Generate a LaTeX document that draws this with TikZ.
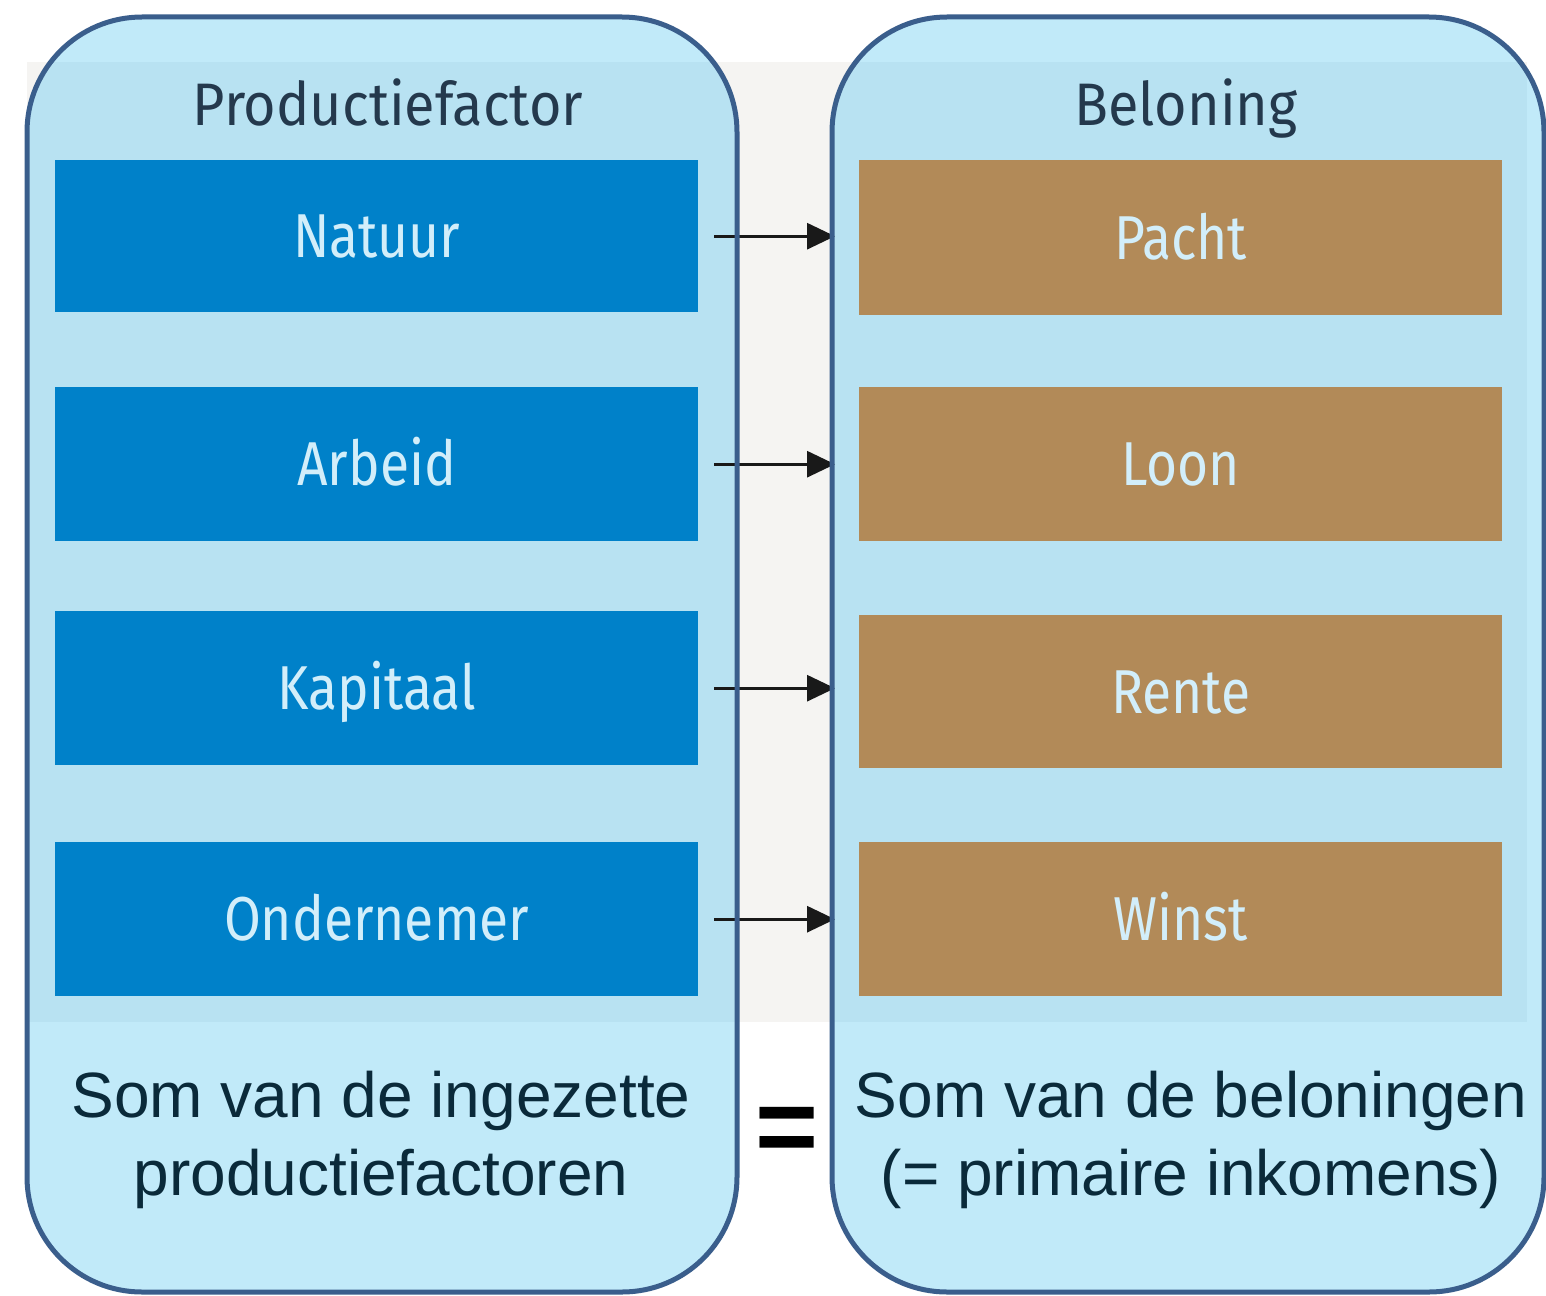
\documentclass[tikz,border=0pt]{standalone}
\usepackage{fontspec}
\setmainfont{Liberation Sans}
\newfontfamily\boxfont[FakeStretch=0.86]{Fira Sans}
\newfontfamily\headfont[FakeStretch=0.93]{Fira Sans}
\usetikzlibrary{arrows.meta}
\definecolor{outerblue}{HTML}{C1EAF9}
\definecolor{innerblue}{HTML}{B8E2F2}
\definecolor{panelgray}{HTML}{F5F4F2}
\definecolor{rimblue}{HTML}{3A5E8C}
\definecolor{factorblue}{HTML}{0081C9}
\definecolor{rewardbrown}{HTML}{B28A58}
\definecolor{headtext}{HTML}{24394D}
\definecolor{labeltext}{HTML}{D2EEFA}
\definecolor{sumtext}{HTML}{0A2A3A}
\begin{document}
\begin{tikzpicture}[x=1pt,y=-1pt,
  cardbox/.style={draw=none, inner sep=0pt, anchor=north west, minimum width=643pt,
    font=\boxfont\fontsize{62}{62}\selectfont, text=labeltext, text height=43pt, text depth=0pt},
  factor/.style={cardbox, fill=factorblue},
  reward/.style={cardbox, fill=rewardbrown},
  heading/.style={anchor=base, inner sep=0pt, font=\headfont\fontsize{60}{60}\selectfont, text=headtext},
  sumline/.style={anchor=base, inner sep=0pt, font=\fontsize{64}{78}\selectfont, text=sumtext},
  flow/.style={draw=black!90, line width=3pt, -{Triangle[length=28pt,width=26pt]}, shorten <=16pt, shorten >=24pt},
  rim/.style={draw=rimblue, line width=5pt, rounded corners=115pt}
]
\useasboundingbox (0,0) rectangle (1546,1295);
\fill[white] (0,0) rectangle (1546,1295);
% gray panel
\fill[panelgray] (27,62) rectangle (1527,1022);
% rounded column fills
\fill[outerblue, rounded corners=115pt] (27,17) rectangle (737,1292);
\fill[outerblue, rounded corners=115pt] (832,17) rectangle (1544,1292);
\begin{scope}
  \clip[rounded corners=115pt] (27,17) rectangle (737,1292);
  \fill[innerblue] (27,62) rectangle (1527,1022);
\end{scope}
\begin{scope}
  \clip[rounded corners=115pt] (832,17) rectangle (1544,1292);
  \fill[innerblue] (27,62) rectangle (1527,1022);
\end{scope}
% headings
\node[heading] (hfactor) at (388,125) {Productiefactor};
\node[heading] (hreward) at (1186,125) {Beloning};
% factor boxes
\node[factor, minimum height=152pt] (natuur) at (55,160) {Natuur};
\node[factor, minimum height=154pt] (arbeid) at (55,387) {Arbeid};
\node[factor, minimum height=154pt] (kapitaal) at (55,611) {Kapitaal};
\node[factor, minimum height=154pt] (ondernemer) at (55,842) {Ondernemer};
% reward boxes
\node[reward, minimum height=155pt] (pacht) at (859,160) {Pacht};
\node[reward, minimum height=154pt] (loon) at (859,387) {Loon};
\node[reward, minimum height=153pt] (rente) at (859,615) {Rente};
\node[reward, minimum height=154pt] (winst) at (859,842) {Winst};
% arrows
\draw[flow] (natuur.east) -- (natuur.east -| pacht.west);
\draw[flow] (arbeid.east) -- (arbeid.east -| loon.west);
\draw[flow] (kapitaal.east) -- (kapitaal.east -| rente.west);
\draw[flow] (ondernemer.east) -- (ondernemer.east -| winst.west);
% borders
\draw[rim] (27,17) rectangle (737,1292);
\draw[rim] (832,17) rectangle (1544,1292);
% sums
\node[sumline] (suml1) at (381,1117) {Som van de ingezette};
\node[sumline] (suml2) at (381,1195) {productiefactoren};
\node[sumline] (sumr1) at (1191,1117) {Som van de beloningen};
\node[sumline] (sumr2) at (1191,1195) {(= primaire inkomens)};
\node[anchor=base, inner sep=0pt, font=\bfseries\fontsize{108}{108}\selectfont, text=black] (equals) at (787,1163) {=};
\end{tikzpicture}
\end{document}
